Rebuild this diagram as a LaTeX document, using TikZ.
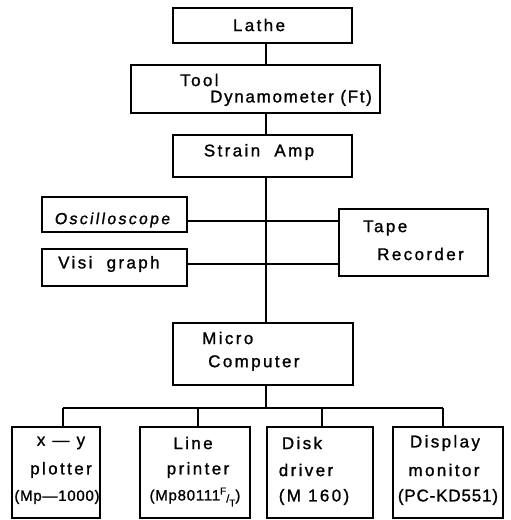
\documentclass[tikz,border=0pt]{standalone}
\usepackage{fontspec}
\setmainfont{Liberation Sans}
\newfontfamily\labw{Liberation Sans}[LetterSpace=14,FakeBold=1.2]
\newfontfamily\labm{Liberation Sans}[LetterSpace=10,FakeBold=1.2]
\newfontfamily\labn{Liberation Sans}[LetterSpace=5,FakeBold=1.2]
\newfontfamily\labt{Liberation Sans}[LetterSpace=0,FakeBold=1.2]
\newfontfamily\labi{Liberation Sans}[LetterSpace=14,FakeBold=1.2,FakeSlant=0.15]
\begin{document}
\begin{tikzpicture}[x=1pt,y=-1pt,
  blk/.style={draw,line width=1.5pt,rectangle,inner sep=0pt},
  lbl/.style={inner sep=0pt,font=\labw\fontsize{17}{19}\selectfont},
  lbn/.style={inner sep=0pt,font=\labn\fontsize{17}{19}\selectfont},
  wire/.style={line width=1.5pt}]
\useasboundingbox (0,0) rectangle (511,520);
% boxes
\node[blk,minimum width=179pt,minimum height=35pt] (lathe) at (262.5,25.5) {};
\node[blk,minimum width=249pt,minimum height=48pt] (tool) at (255.5,89) {};
\node[blk,minimum width=179pt,minimum height=42pt] (strain) at (262.5,156) {};
\node[blk,minimum width=145pt,minimum height=35pt] (osc) at (114.5,214.5) {};
\node[blk,minimum width=145pt,minimum height=37pt] (visi) at (114.5,267.5) {};
\node[blk,minimum width=149pt,minimum height=67pt] (tape) at (413.5,242.5) {};
\node[blk,minimum width=180pt,minimum height=62pt] (micro) at (263,354) {};
\node[blk,minimum width=88pt,minimum height=91pt] (xy) at (56,472.5) {};
\node[blk,minimum width=110pt,minimum height=91pt] (lp) at (195,472.5) {};
\node[blk,minimum width=106pt,minimum height=91pt] (disk) at (320,472.5) {};
\node[blk,minimum width=110pt,minimum height=91pt] (disp) at (448,472.5) {};
% texts
\node[lbl] (tlathe) at (259,25) {Lathe};
\node[lbl,anchor=west] (ttool) at (180,80) {Tool};
\node[lbl,anchor=west,font=\labm\fontsize{17}{19}\selectfont] (tdyn) at (210,98) {Dynamometer (Ft)};
\node[lbl] (tstrain) at (259,152) {Strain\ \ Amp};
\node[lbl,anchor=west,font=\labi\fontsize{16}{18}\selectfont] (tosc) at (54,220) {Oscilloscope};
\node[lbl,anchor=west] (tvisi) at (58,264) {Visi\ \ graph};
\node[lbl,anchor=west] (ttape) at (363,228) {Tape};
\node[lbl,anchor=west] (trec) at (377,254) {Recorder};
\node[lbl,anchor=west] (tmicro) at (202,338) {Micro};
\node[lbl,anchor=west] (tcomp) at (208,363) {Computer};
\node[lbl] (a1) at (61,443) {x — y};
\node[lbl] (a2) at (61,470) {plotter};
\node[lbn,font=\labn\fontsize{15}{17}\selectfont] (a3) at (57,497) {(Mp—1000)};
\node[lbl] (b1) at (193,443) {Line};
\node[lbl] (b2) at (198,470) {printer};
\node[lbn,font=\labn\fontsize{15}{17}\selectfont] (b3) at (195,497) {(Mp80111\labt\raisebox{6pt}{\fontsize{10}{10}\selectfont F}\raisebox{-2pt}{\fontsize{11}{11}\selectfont/}\raisebox{-6pt}{\fontsize{10}{10}\selectfont T}\labn)};
\node[lbl] (c1) at (302,443) {Disk};
\node[lbl] (c2) at (306,470) {driver};
\node[lbl] (c3) at (314,497) {(M 160)};
\node[lbl] (d1) at (445,443) {Display};
\node[lbl] (d2) at (444,470) {monitor};
\node[lbn] (d3) at (448,497) {(PC-KD551)};
% connectors
\coordinate (sp) at (266,0);
\coordinate (oy) at (0,221);
\coordinate (vy) at (0,264);
\coordinate (bus) at (0,408);
\coordinate (x1) at (63,0);
\coordinate (x2) at (198,0);
\coordinate (x3) at (322,0);
\coordinate (x4) at (443,0);
\draw[wire] (lathe.south -| sp) -- (tool.north -| sp);
\draw[wire] (tool.south -| sp) -- (strain.north -| sp);
\draw[wire] (strain.south -| sp) -- (micro.north -| sp);
\draw[wire] (osc.east |- oy) -- (tape.west |- oy);
\draw[wire] (visi.east |- vy) -- (tape.west |- vy);
\draw[wire] (micro.south -| sp) -- (sp |- bus);
\draw[wire] (x1 |- bus) -- (x4 |- bus);
\draw[wire] (x1 |- bus) -- (xy.north -| x1);
\draw[wire] (x2 |- bus) -- (lp.north -| x2);
\draw[wire] (x3 |- bus) -- (disk.north -| x3);
\draw[wire] (x4 |- bus) -- (disp.north -| x4);
\end{tikzpicture}
\end{document}
